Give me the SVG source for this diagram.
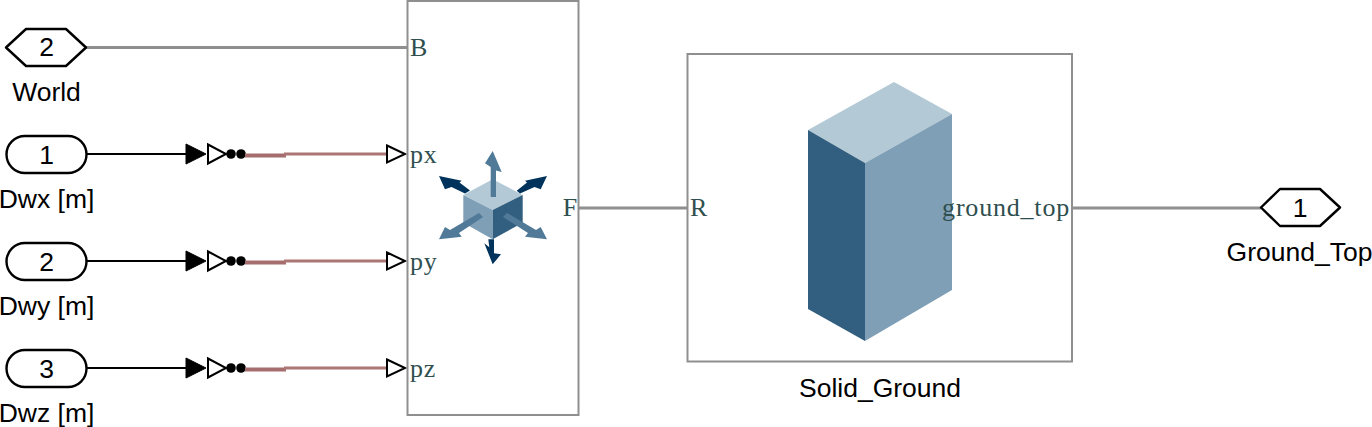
<svg xmlns="http://www.w3.org/2000/svg" width="1372" height="427" viewBox="0 0 1372 427">
<defs>
<style>
text{font-family:"Liberation Sans",Arial,sans-serif;font-size:26.500px;fill:#000}
.num{text-anchor:middle}
.lab{text-anchor:middle}
.port{font-family:"Liberation Serif",serif;font-size:26px;letter-spacing:0.8px;fill:#2f4f4f}
.term{fill:#fff;stroke:#000;stroke-width:2.4;stroke-linejoin:round}
.block{fill:#fff;stroke:#8f8f8f;stroke-width:2}
.phys{fill:none;stroke:#8f8f8f;stroke-width:3}
.sig{fill:none;stroke:#000;stroke-width:2}
.ps1{fill:none;stroke:#a56d6d;stroke-width:4}
.ps2{fill:none;stroke:#ad7676;stroke-width:3}
.open{fill:#fff;stroke:#000;stroke-width:2}
.dark{fill:#00335c}
.mid{fill:#507a98}
</style>
<g id="conv">
<path d="M0 -10L20 0L0 10Z" fill="#000" stroke="#000" stroke-width="1"/>
<path class="open" d="M22 -9.500L40 0L22 9.500Z"/>
<circle cx="45" cy="0" r="4.800" fill="#000"/>
<circle cx="55" cy="0" r="4.800" fill="#000"/>
<path class="ps1" d="M59 1.500H100"/>
<path class="ps2" d="M98 0H201"/>
<path class="open" d="M201 -8.500L219 0L201 8.500Z"/>
</g>
</defs>
<g id="connectors">
<path class="phys" d="M86 47.500H408"/>
<path class="sig" d="M87 154H186"/>
<path class="sig" d="M87 261H186"/>
<path class="sig" d="M87 368H186"/>
<use href="#conv" x="186" y="154"/>
<use href="#conv" x="186" y="261"/>
<use href="#conv" x="186" y="368"/>
<path class="phys" d="M579 208H688"/>
<path class="phys" d="M1072 208H1261"/>
</g>
<g id="world">
<path class="term" d="M26 29H66L86 47.500L66 66H26L6 47.500Z"/>
<text class="num" x="46.500" y="56">2</text>
<text class="lab" x="46.500" y="101">World</text>
</g>
<g id="dwx">
<rect class="term" x="6.500" y="136" width="80" height="37" rx="18.500"/>
<text class="num" x="46.500" y="164">1</text>
<text class="lab" x="46.500" y="208">Dwx [m]</text>
</g>
<g id="dwy">
<rect class="term" x="6.500" y="243" width="80" height="37" rx="18.500"/>
<text class="num" x="46.500" y="271">2</text>
<text class="lab" x="46.500" y="315">Dwy [m]</text>
</g>
<g id="dwz">
<rect class="term" x="6.500" y="350" width="80" height="37" rx="18.500"/>
<text class="num" x="46.500" y="378">3</text>
<text class="lab" x="46.500" y="422">Dwz [m]</text>
</g>
<g id="force-block">
<rect class="block" x="407.500" y="1" width="171" height="414"/>
<text class="port" x="410" y="56">B</text>
<text class="port" x="410" y="163">px</text>
<text class="port" x="410" y="270">py</text>
<text class="port" x="410" y="377">pz</text>
<text class="port" x="578" y="216" text-anchor="end">F</text>
<!-- force icon: cube with six arrows -->
<path fill="#b3c9d6" d="M492.700 179.300L522.700 195L492.700 210L463.300 195Z"/>
<path fill="#7f9fb6" d="M463.300 195L492.700 210V239.300L463.300 222.700Z"/>
<path fill="#325f7f" d="M492.700 210L522.700 195V222.700L492.700 239.300Z"/>
<path class="dark" d="M439 176L461.700 180.700L459.500 182.500L470 190.500L465 193.500L451.500 187L445 189.300Z"/>
<path class="dark" d="M547 176L525 180.700L527 182.500L516.700 190.700L520 193.500L534.500 187L540.700 189.300Z"/>
<path class="mid" d="M439 239.300L461.700 236.700L459 233L483 217L479 213L450 230L445 227Z"/>
<path class="mid" d="M547 239.300L525 236.700L528 233L503 217L507 213L536 230L540.700 227Z"/>
<path class="mid" d="M492.700 151L501.700 172L496 170.500V197H490.700V167L485 163.300Z"/>
<path class="dark" d="M492.700 264.300L501 254.300L494 253.300V239.300H488.300L489.300 247.300L484.300 243.300Z"/>
</g>
<g id="solid-ground">
<rect class="block" x="687.500" y="54" width="384.500" height="307.500"/>
<path fill="#b3c9d6" d="M894 82L952 114L865 163L808 130Z"/>
<path fill="#325f7f" d="M808 130L865 163V341L808 309Z"/>
<path fill="#7f9fb6" d="M865 163L952 114V290L865 341Z"/>
<text class="port" x="690" y="216">R</text>
<text class="port" x="1070" y="216" text-anchor="end">ground_top</text>
<text class="lab" x="880" y="397">Solid_Ground</text>
</g>
<g id="ground-top">
<path class="term" d="M1280 189H1320L1340 207.500L1320 226H1280L1261 207.500Z"/>
<text class="num" x="1300" y="217">1</text>
<text class="lab" x="1299.500" y="261">Ground_Top</text>
</g>
</svg>
